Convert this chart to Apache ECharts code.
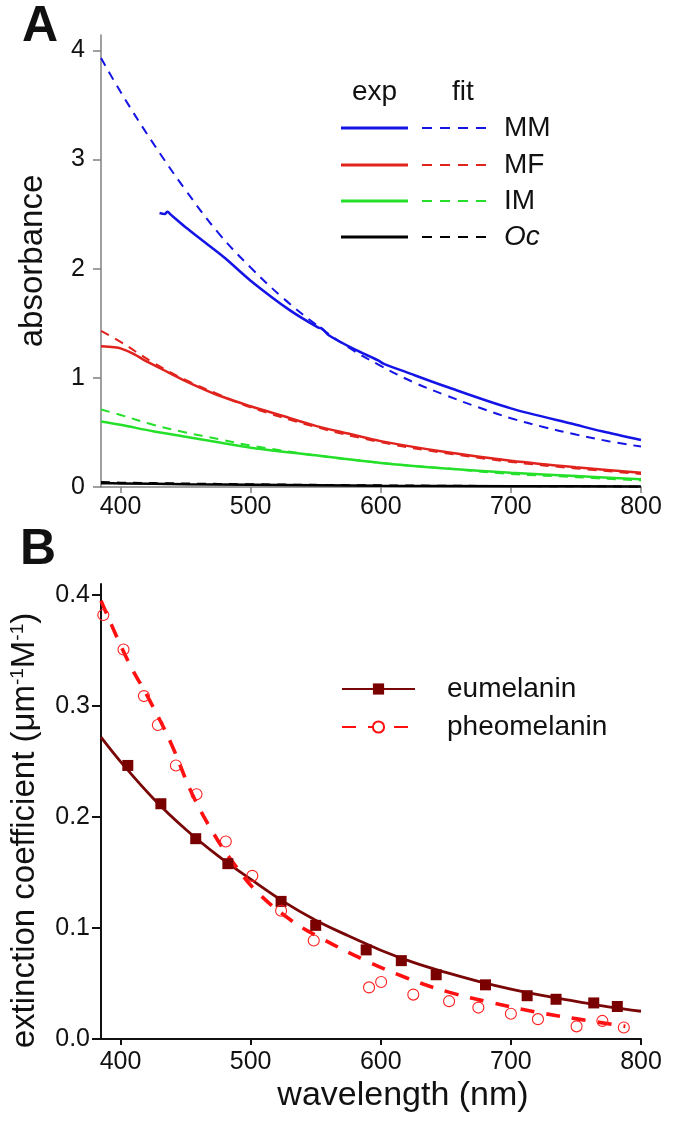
<!DOCTYPE html>
<html>
<head>
<meta charset="utf-8">
<title>absorbance and extinction coefficient</title>
<style>
  html, body { margin: 0; padding: 0; background: #fff; }
  #main { width: 673px; height: 1125px; }
</style>
<script src="https://cdn.jsdelivr.net/npm/echarts@6/dist/echarts.min.js"></script>
</head>
<body>
<div id="main"></div>
<script>
// ---- panel A: absorbance spectra, measured (exp) and fitted (fit) ----
var sampleNames = ['MM', 'MF', 'IM', 'Oc'];

var mmExp = [[430, 2.51], [434, 2.50], [436, 2.52], [439, 2.49], [442, 2.46], [450, 2.38], [465, 2.24],
  [480, 2.10], [500, 1.89], [530, 1.62], [552, 1.46], [555, 1.45], [560, 1.39], [580, 1.26], [598, 1.16],
  [602, 1.13], [620, 1.05], [650, 0.92], [700, 0.72], [750, 0.57], [770, 0.51], [800, 0.43]];
var mmFit = [[385, 3.93], [400, 3.62], [425, 3.15], [450, 2.72], [475, 2.33], [500, 2.01], [525, 1.73],
  [550, 1.49], [575, 1.28], [600, 1.11], [625, 0.96], [650, 0.84], [675, 0.73], [700, 0.63], [725, 0.55],
  [750, 0.48], [775, 0.42], [800, 0.37]];

var mfExp = [[385, 1.29], [395, 1.28], [400, 1.27], [410, 1.22], [420, 1.15], [430, 1.09], [450, 0.97],
  [475, 0.84], [500, 0.74], [525, 0.65], [550, 0.56], [575, 0.49], [600, 0.42], [650, 0.32], [700, 0.24],
  [750, 0.18], [800, 0.13]];
var mfFit = [[385, 1.43], [400, 1.33], [425, 1.14], [450, 0.98], [475, 0.85], [500, 0.73], [550, 0.55],
  [600, 0.41], [650, 0.31], [700, 0.23], [750, 0.17], [800, 0.12]];

var imExp = [[385, 0.60], [400, 0.57], [425, 0.51], [450, 0.46], [475, 0.41], [500, 0.36], [550, 0.29],
  [600, 0.22], [650, 0.17], [700, 0.13], [750, 0.10], [800, 0.07]];
var imFit = [[385, 0.71], [400, 0.66], [425, 0.57], [450, 0.50], [475, 0.44], [500, 0.38], [550, 0.29],
  [600, 0.22], [650, 0.17], [700, 0.12], [750, 0.09], [800, 0.06]];

var ocExp = [[385, 0.035], [400, 0.033], [450, 0.025], [500, 0.020], [600, 0.012], [700, 0.008], [800, 0.005]];
var ocFit = [[385, 0.045], [400, 0.040], [450, 0.032], [500, 0.025], [600, 0.015], [700, 0.009], [800, 0.005]];

var absTicks = [0, 1, 2, 3, 4];
var wlTicks = [400, 500, 600, 700, 800];

// ---- panel B: extinction coefficients ----
var eumelaninPts = [[405.6, 0.2465], [431, 0.212], [457.8, 0.1805], [482.5, 0.158], [523.4, 0.124],
  [550, 0.1024], [588.8, 0.0803], [615.8, 0.0706], [642.6, 0.0579], [680.5, 0.0488], [712.5, 0.039],
  [734.7, 0.0358], [763.7, 0.0325], [781.8, 0.0293]];
var eumelaninFit = [[385, 0.272], [400, 0.250], [425, 0.217], [450, 0.189], [475, 0.165], [500, 0.144],
  [525, 0.124], [550, 0.107], [575, 0.093], [600, 0.080], [625, 0.069], [650, 0.060], [675, 0.052],
  [700, 0.045], [725, 0.039], [750, 0.034], [775, 0.029], [800, 0.025]];

var pheomelaninPts = [[386.8, 0.382], [402.3, 0.351], [418, 0.309], [428.7, 0.283], [442.6, 0.2465],
  [458.4, 0.2205], [480.9, 0.178], [501.3, 0.147], [523.4, 0.1155], [548.5, 0.0888], [591, 0.0465],
  [600.3, 0.0514], [625, 0.040], [652.5, 0.0341], [675, 0.0283], [700, 0.0228], [720.8, 0.0179],
  [750.5, 0.0114], [770.3, 0.0163], [786.8, 0.0104]];
var pheomelaninFit = [[385, 0.395], [405.6, 0.341], [422, 0.306], [438.6, 0.267], [455, 0.221],
  [471.6, 0.185], [486.5, 0.159], [504.6, 0.133], [531, 0.107], [554, 0.091], [587, 0.0715], [620, 0.055],
  [653, 0.042], [686, 0.0325], [719, 0.0244], [752, 0.0179], [788, 0.0114]];

var extTicks = [0, 0.1, 0.2, 0.3, 0.4];

var FONT = '"Liberation Sans", Arial, Helvetica, sans-serif';
var colorsA = ['#1414e6', '#e0231d', '#25e02a', '#000000'];
var expData = [mmExp, mfExp, imExp, ocExp];
var fitData = [mmFit, mfFit, imFit, ocFit];

var myChart = echarts.init(document.getElementById('main'));

var series = [];
sampleNames.forEach(function (n, i) {
  series.push({
    name: n + ' fit', type: 'line', xAxisIndex: 0, yAxisIndex: 0,
    data: fitData[i], symbol: 'none', smooth: 0.4, z: 2,
    lineStyle: { color: colorsA[i], width: 2, type: [9, 7] }
  });
  series.push({
    name: n + ' exp', type: 'line', xAxisIndex: 0, yAxisIndex: 0,
    data: expData[i], symbol: 'none', smooth: 0.3, z: 3,
    lineStyle: { color: colorsA[i], width: 2.5 }
  });
});

series.push(
  {
    name: 'eumelanin', type: 'line', xAxisIndex: 1, yAxisIndex: 1,
    data: eumelaninFit, smooth: 0.4, symbol: 'rect', symbolSize: 11, showSymbol: false,
    lineStyle: { color: '#7a0707', width: 2.8 }, itemStyle: { color: '#7a0000' }
  },
  {
    name: 'eumelanin data', type: 'scatter', xAxisIndex: 1, yAxisIndex: 1,
    data: eumelaninPts, symbol: 'rect', symbolSize: 11, itemStyle: { color: '#7a0000', opacity: 1 }, z: 4
  },
  {
    name: 'pheomelanin', type: 'line', xAxisIndex: 1, yAxisIndex: 1,
    data: pheomelaninFit, smooth: 0.4, symbol: 'emptyCircle', symbolSize: 11, showSymbol: false,
    lineStyle: { color: '#ff1010', width: 3.6, type: [14, 12] }, itemStyle: { color: '#ff1010' }
  },
  {
    name: 'pheomelanin data', type: 'scatter', xAxisIndex: 1, yAxisIndex: 1,
    data: pheomelaninPts, symbol: 'circle', symbolSize: 11,
    itemStyle: { color: 'rgba(255,255,255,0)', borderColor: '#ff2020', borderWidth: 1.1, opacity: 1 }, z: 5
  }
);

// legend drawing for panel A (exp = solid, fit = dashed)
var rowY = [128, 165, 201, 237];
var legendA = [
  { type: 'text', left: 352, top: 78, style: { text: 'exp', font: '28px ' + FONT, fill: '#111' } },
  { type: 'text', left: 452, top: 78, style: { text: 'fit', font: '28px ' + FONT, fill: '#111' } }
];
sampleNames.forEach(function (n, i) {
  legendA.push({ type: 'line', shape: { x1: 341, y1: rowY[i], x2: 408, y2: rowY[i] },
    style: { stroke: colorsA[i], lineWidth: 3.2 } });
  legendA.push({ type: 'line', shape: { x1: 422, y1: rowY[i], x2: 487, y2: rowY[i] },
    style: { stroke: colorsA[i], lineWidth: 2, lineDash: [10, 8] } });
  legendA.push({ type: 'text', x: 504, y: rowY[i],
    style: { text: n, font: (n === 'Oc' ? 'italic ' : '') + '28px ' + FONT, fill: '#111', verticalAlign: 'middle' } });
});

var option = {
  animation: false,
  backgroundColor: '#fff',
  textStyle: { fontFamily: FONT },
  grid: [
    { left: 101, right: 32, top: 35, bottom: 638 },
    { left: 101, right: 32, top: 584, bottom: 86 }
  ],
  xAxis: [
    {
      type: 'value', gridIndex: 0, min: 385, max: 800,
      axisLine: { lineStyle: { color: '#808080', width: 1.5 } },
      axisTick: { length: 6, customValues: wlTicks, lineStyle: { color: '#808080', width: 1.5 } },
      axisLabel: { customValues: wlTicks, fontSize: 25, color: '#111', margin: 8 },
      splitLine: { show: false }
    },
    {
      type: 'value', gridIndex: 1, min: 385, max: 800,
      name: 'wavelength (nm)', nameLocation: 'middle', nameGap: 40,
      nameTextStyle: { fontSize: 34, color: '#111', padding: [0, 0, 0, 64] },
      axisLine: { lineStyle: { color: '#111', width: 2 } },
      axisTick: { length: 6, customValues: wlTicks, lineStyle: { color: '#111', width: 2 } },
      axisLabel: { customValues: wlTicks, fontSize: 25, color: '#111', margin: 11 },
      splitLine: { show: false }
    }
  ],
  yAxis: [
    {
      type: 'value', gridIndex: 0, min: 0, max: 4.14,
      name: 'absorbance', nameLocation: 'middle', nameGap: 52,
      nameTextStyle: { fontSize: 33, color: '#111' },
      axisLine: { show: true, lineStyle: { color: '#808080', width: 1.5 } },
      axisTick: { show: true, length: 8, customValues: absTicks, lineStyle: { color: '#808080', width: 1.5 } },
      axisLabel: { customValues: absTicks, fontSize: 25, color: '#111', margin: 16 },
      splitLine: { show: false }
    },
    {
      type: 'value', gridIndex: 1, min: 0, max: 0.41,
      name: 'extinction coefficient (μm{s|-1}M{s|-1})', nameLocation: 'middle', nameGap: 60,
      nameTextStyle: {
        fontSize: 33, color: '#111', padding: [0, 38, 0, 0],
        rich: { s: { fontSize: 19, verticalAlign: 'top', color: '#111' } }
      },
      axisLine: { show: true, lineStyle: { color: '#111', width: 2 } },
      axisTick: { show: true, length: 9, customValues: extTicks, lineStyle: { color: '#111', width: 2 } },
      axisLabel: {
        customValues: extTicks, fontSize: 25, color: '#111', margin: 11,
        formatter: function (v) { return v.toFixed(1); }
      },
      splitLine: { show: false }
    }
  ],
  legend: {
    orient: 'vertical', left: 341, top: 670, padding: 0, itemGap: 0,
    itemWidth: 73, itemHeight: 14, selectedMode: false,
    data: ['eumelanin', 'pheomelanin'],
    textStyle: { fontSize: 28, color: '#111', lineHeight: 38, padding: [0, 0, 0, 27] }
  },
  graphic: [
    { type: 'text', left: 22, top: 2, style: { text: 'A', font: 'bold 50px ' + FONT, fill: '#111' } },
    { type: 'text', left: 20, top: 525, style: { text: 'B', font: 'bold 50px ' + FONT, fill: '#111' } }
  ].concat(legendA),
  series: series
};

myChart.setOption(option);
</script>
</body>
</html>
